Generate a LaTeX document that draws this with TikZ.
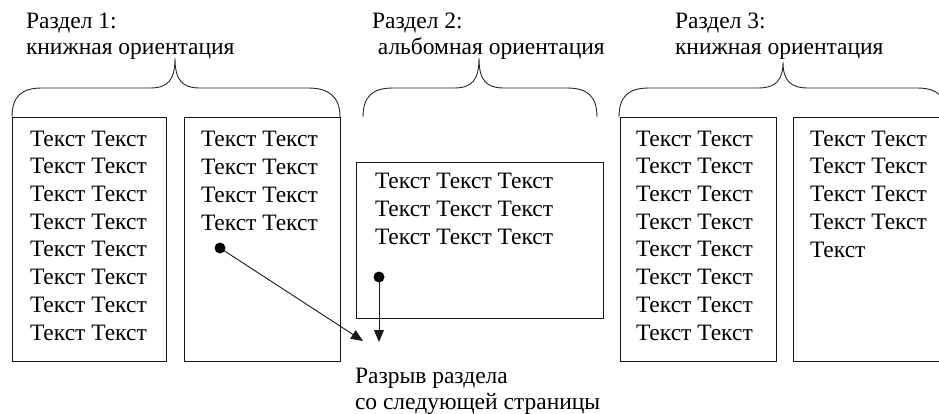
\documentclass[tikz,border=0pt]{standalone}
\usepackage{fontspec}
\setmainfont{LiberationSerif}[Extension=.ttf, UprightFont=*-Regular, BoldFont=*-Bold]
\usetikzlibrary{arrows.meta}
\tikzset{
  pagebox/.style={draw=black!90, line width=0.9pt, inner sep=0pt, outer sep=0pt, anchor=north west},
  txt/.style={inner sep=0pt, outer sep=0pt, anchor=base west, align=left, font=\fontsize{23.5}{27.7}\selectfont},
  hdr/.style={inner sep=0pt, outer sep=0pt, anchor=base west, align=left, font=\fontsize{23.5}{26}\selectfont},
  bracestyle/.style={draw=black!85, line width=0.9pt},
  dotnode/.style={circle, fill=black, inner sep=0pt, minimum size=11pt},
  conn/.style={draw=black!90, line width=0.9pt, -{Triangle[length=12pt,width=10pt]}}
}
\begin{document}
\begin{tikzpicture}[x=1pt,y=-1pt]
\useasboundingbox (0,0) rectangle (939,414);
% pages
\node[pagebox, minimum width=154pt, minimum height=244pt] (p1) at (12,117) {};
\node[pagebox, minimum width=156pt, minimum height=244pt] (p2) at (184,117) {};
\node[pagebox, minimum width=247pt, minimum height=156pt] (p3) at (356,162) {};
\node[pagebox, minimum width=156pt, minimum height=244pt] (p4) at (620,117) {};
\node[pagebox, minimum width=170pt, minimum height=244pt] (p5) at (793,117) {};
% texts (anchored at the baseline of the last line)
\node[txt] (t1) at (30,340) {Текст Текст\\Текст Текст\\Текст Текст\\Текст Текст\\Текст Текст\\Текст Текст\\Текст Текст\\Текст Текст};
\node[txt] (t2) at (201,230) {Текст Текст\\Текст Текст\\Текст Текст\\Текст Текст};
\node[txt] (t3) at (375,244) {Текст Текст Текст\\Текст Текст Текст\\Текст Текст Текст};
\node[txt] (t4) at (636,340) {Текст Текст\\Текст Текст\\Текст Текст\\Текст Текст\\Текст Текст\\Текст Текст\\Текст Текст\\Текст Текст};
\node[txt] (t5) at (810,257) {Текст Текст\\Текст Текст\\Текст Текст\\Текст Текст\\Текст};
% headers
\node[hdr] (h1) at (26,55) {Раздел 1:\\книжная ориентация};
\node[hdr] (h2) at (372,55) {Раздел 2:\\\ альбомная ориентация};
\node[hdr] (h3) at (675,55) {Раздел 3:\\книжная ориентация};
\node[hdr] (h4) at (355,409) {Разрыв раздела\\со следующей страницы};
% braces
\coordinate (b1) at (175,58);
\coordinate (b2) at (479,58);
\coordinate (b3) at (783,62);
\draw[bracestyle] (12,117) .. controls (12,96) and (22,88) .. (42,88) -- (150,88)
   .. controls (168,88) and (175,80) .. (b1) .. controls (175,80) and (182,88) .. (200,88)
   -- (308,88) .. controls (328,88) and (340,96) .. (340,117);
\draw[bracestyle] (363,117) .. controls (363,96) and (373,88) .. (393,88) -- (454,88)
   .. controls (472,88) and (479,80) .. (b2) .. controls (479,80) and (486,88) .. (504,88)
   -- (567,88) .. controls (587,88) and (597,96) .. (597,117);
\draw[bracestyle] (619,117) .. controls (619,96) and (629,88) .. (649,88) -- (758,88)
   .. controls (776,88) and (783,80) .. (b3) .. controls (783,80) and (790,88) .. (808,88)
   -- (917,88) .. controls (937,88) and (947,96) .. (947,117);
% dots and arrows
\node[dotnode] (d1) at (220,248) {};
\node[dotnode] (d2) at (379,277) {};
\coordinate (e1) at (363,341);
\coordinate (e2) at (379,342);
\draw[conn] (d1.center) -- (e1);
\draw[conn] (d2.center) -- (e2);
\end{tikzpicture}
\end{document}
